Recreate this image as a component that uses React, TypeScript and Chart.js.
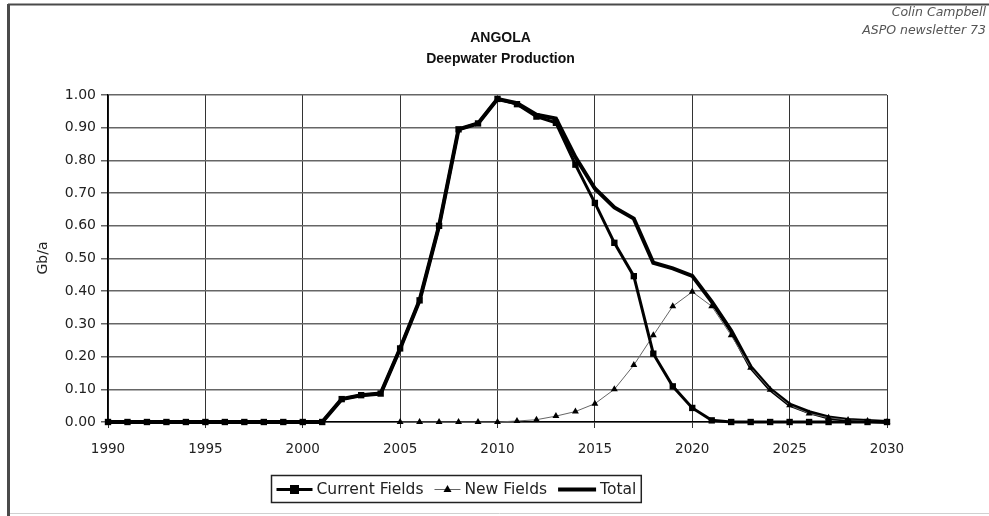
import React, { useEffect, useRef } from "react";
import { Chart, registerables } from "chart.js";

Chart.register(...registerables);

const years = [
  1990, 1991, 1992, 1993, 1994, 1995, 1996, 1997, 1998, 1999,
  2000, 2001, 2002, 2003, 2004, 2005, 2006, 2007, 2008, 2009,
  2010, 2011, 2012, 2013, 2014, 2015, 2016, 2017, 2018, 2019,
  2020, 2021, 2022, 2023, 2024, 2025, 2026, 2027, 2028, 2029, 2030,
];

const currentFields = [
  0, 0, 0, 0, 0, 0, 0, 0, 0, 0,
  0, 0, 0.07, 0.082, 0.087, 0.225, 0.372, 0.6, 0.895, 0.913,
  0.988, 0.972, 0.934, 0.915, 0.787, 0.67, 0.548, 0.446, 0.209, 0.109,
  0.043, 0.005, 0, 0, 0, 0, 0, 0, 0, 0, 0,
];

const newFields: (number | null)[] = [
  null, null, null, null, null, null, null, null, null, null,
  null, null, null, null, null, 0, 0, 0, 0, 0,
  0, 0.003, 0.007, 0.018, 0.032, 0.056, 0.1, 0.174, 0.265, 0.354,
  0.398, 0.354, 0.265, 0.166, 0.099, 0.051, 0.026, 0.013, 0.006, 0.003, 0,
];

const total = [
  0, 0, 0, 0, 0, 0, 0, 0, 0, 0,
  0, 0, 0.07, 0.082, 0.087, 0.225, 0.372, 0.6, 0.895, 0.913,
  0.988, 0.975, 0.94, 0.928, 0.81, 0.714, 0.656, 0.622, 0.487, 0.47,
  0.447, 0.368, 0.279, 0.168, 0.1, 0.053, 0.03, 0.014, 0.006, 0.003, 0,
];

const titleLines = ["ANGOLA", "Deepwater Production"];
const sourceLines = ["Colin Campbell", "ASPO newsletter 73"];
const yAxisTitle = "Gb/a";
const seriesNames = ["Current Fields", "New Fields", "Total"];

const W = 989;
const H = 516;

const toPoints = (vals: (number | null)[]) =>
  years.map((x, i) => ({ x, y: vals[i] }));

const decorPlugin = {
  id: "decor",
  beforeDraw(chart: any) {
    const ctx = chart.ctx;
    ctx.save();
    ctx.fillStyle = "#ffffff";
    ctx.fillRect(0, 0, W, H);
    ctx.restore();
  },
  afterDraw(chart: any) {
    const ctx = chart.ctx;
    const area = chart.chartArea;
    ctx.save();
    // frame
    ctx.strokeStyle = "#4a4a4a";
    ctx.lineWidth = 2;
    ctx.beginPath();
    ctx.moveTo(8, 4.5);
    ctx.lineTo(W, 4.5);
    ctx.stroke();
    ctx.lineWidth = 3;
    ctx.beginPath();
    ctx.moveTo(8.5, 4);
    ctx.lineTo(8.5, H);
    ctx.stroke();
    ctx.strokeStyle = "#d0d0d0";
    ctx.lineWidth = 1;
    ctx.beginPath();
    ctx.moveTo(10, 513.5);
    ctx.lineTo(W, 513.5);
    ctx.stroke();

    // title
    const cx = (area.left + area.right) / 2 + 3;
    ctx.fillStyle = "#111";
    ctx.textAlign = "center";
    ctx.textBaseline = "middle";
    ctx.font = "bold 14px 'Liberation Sans', Arial, sans-serif";
    ctx.fillText(titleLines[0], cx, 38);
    ctx.fillText(titleLines[1], cx, 59);

    // source
    ctx.fillStyle = "#555";
    ctx.textAlign = "right";
    ctx.font = "italic 12.5px 'DejaVu Sans', sans-serif";
    ctx.fillText(sourceLines[0], 986, 13);
    ctx.fillText(sourceLines[1], 986, 31);

    // y title
    ctx.save();
    ctx.translate(43, 258);
    ctx.rotate(-Math.PI / 2);
    ctx.textAlign = "center";
    ctx.textBaseline = "middle";
    ctx.fillStyle = "#222";
    ctx.font = "14px 'DejaVu Sans', sans-serif";
    ctx.fillText(yAxisTitle, 0, 0);
    ctx.restore();

    // legend
    const ds = chart.data.datasets;
    ctx.font = "15.5px 'DejaVu Sans', sans-serif";
    const lineLens = [36, 26, 38];
    const gapAfterLine = 4;
    const gapAfterText = 11;
    const pad = 5;
    let totalW = pad * 2;
    ds.forEach((d: any, i: number) => {
      totalW += lineLens[i] + gapAfterLine + ctx.measureText(d.label).width;
      if (i < ds.length - 1) totalW += gapAfterText;
    });
    const boxCx = 456;
    const boxTop = 475;
    const boxH = 27;
    const boxLeft = Math.round(boxCx - totalW / 2) + 0.5;
    ctx.fillStyle = "#fff";
    ctx.fillRect(boxLeft, boxTop, totalW, boxH);
    ctx.strokeStyle = "#222";
    ctx.lineWidth = 1.5;
    ctx.strokeRect(boxLeft, boxTop + 0.5, totalW, boxH);
    let x = boxLeft + pad;
    const my = boxTop + boxH / 2 + 1;
    ds.forEach((d: any, i: number) => {
      const L = lineLens[i];
      ctx.strokeStyle = d.borderColor;
      ctx.lineWidth = d.borderWidth;
      ctx.beginPath();
      ctx.moveTo(x, my);
      ctx.lineTo(x + L, my);
      ctx.stroke();
      const mx = x + L / 2;
      if (d.pointStyle === "rect") {
        ctx.fillStyle = "#000";
        ctx.fillRect(mx - 4.5, my - 4.5, 9, 9);
      } else if (d.pointStyle === "triangle") {
        ctx.fillStyle = "#000";
        ctx.beginPath();
        ctx.moveTo(mx, my - 4.5);
        ctx.lineTo(mx + 4, my + 2.5);
        ctx.lineTo(mx - 4, my + 2.5);
        ctx.closePath();
        ctx.fill();
      }
      x += L + gapAfterLine;
      ctx.fillStyle = "#222";
      ctx.textAlign = "left";
      ctx.textBaseline = "middle";
      ctx.fillText(d.label, x, my);
      x += ctx.measureText(d.label).width + gapAfterText;
    });
    ctx.restore();
  },
};

export default function App() {
  const ref = useRef<HTMLCanvasElement | null>(null);

  useEffect(() => {
    if (!ref.current) return;
    const chart = new Chart(ref.current, {
      type: "line",
      data: {
        datasets: [
          {
            label: seriesNames[0],
            data: toPoints(currentFields),
            borderColor: "#000",
            backgroundColor: "#000",
            borderWidth: 3,
            pointStyle: "rect",
            pointRadius: 4.5,
            pointBackgroundColor: "#000",
            pointBorderColor: "#000",
            pointBorderWidth: 0,
            tension: 0,
            clip: false,
          },
          {
            label: seriesNames[1],
            data: toPoints(newFields),
            borderColor: "#666",
            backgroundColor: "#000",
            borderWidth: 1,
            pointStyle: "triangle",
            pointRadius: 4,
            pointBackgroundColor: "#000",
            pointBorderColor: "#000",
            pointBorderWidth: 0,
            tension: 0,
            spanGaps: false,
            clip: false,
          },
          {
            label: seriesNames[2],
            data: toPoints(total),
            borderColor: "#000",
            backgroundColor: "#000",
            borderWidth: 4,
            pointRadius: 0,
            tension: 0,
            clip: false,
          },
        ],
      },
      options: {
        responsive: false,
        animation: false,
        devicePixelRatio: 1,
        layout: { padding: { left: 0, top: 95, right: 102, bottom: 0 } },
        plugins: {
          legend: { display: false },
          title: { display: false },
          tooltip: { enabled: false },
        },
        scales: {
          x: {
            type: "linear",
            min: 1990,
            max: 2030,
            afterFit: (s: any) => {
              s.height = 94;
            },
            ticks: {
              stepSize: 5,
              autoSkip: false,
              maxRotation: 0,
              padding: 13,
              color: "#222",
              font: { family: "'DejaVu Sans', sans-serif", size: 13.5 },
              callback: (v: any) => String(v),
            },
            grid: { color: "#333", lineWidth: 1, tickLength: 6 },
            border: { color: "#000", width: 1.5 },
          },
          y: {
            min: 0,
            max: 1,
            afterFit: (s: any) => {
              s.width = 108;
            },
            ticks: {
              stepSize: 0.1,
              padding: 5,
              color: "#222",
              font: { family: "'DejaVu Sans', sans-serif", size: 14 },
              callback: (v: any) => Number(v).toFixed(2),
            },
            grid: { color: "#666", lineWidth: 1.5, tickLength: 7 },
            border: { color: "#000", width: 1.5 },
          },
        },
      },
      plugins: [decorPlugin],
    } as any);
    return () => chart.destroy();
  }, []);

  return (
    <div
      style={{
        position: "fixed",
        left: 0,
        top: 0,
        width: W,
        height: H,
        background: "#fff",
      }}
    >
      <canvas ref={ref} width={W} height={H} style={{ width: W, height: H, display: "block" }} />
    </div>
  );
}
